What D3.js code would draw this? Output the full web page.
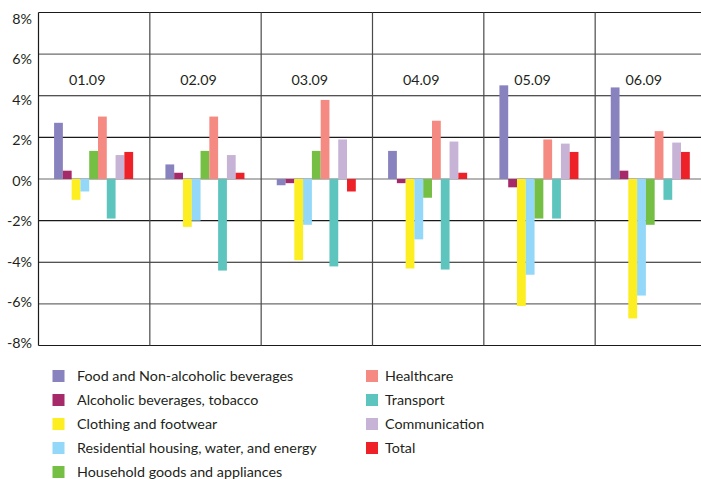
<!DOCTYPE html>
<html>
<head>
<meta charset="utf-8">
<script src="https://cdn.jsdelivr.net/npm/d3@7"></script>
<style>
  html, body { margin: 0; padding: 0; background: #fff; }
  svg { display: block; }
  text { font-family: Lato, "Noto Sans", sans-serif; fill: #231f20; }
</style>
</head>
<body>
<svg id="chart" width="701" height="479"></svg>
<script>
const months = ["01.09", "02.09", "03.09", "04.09", "05.09", "06.09"];
const seriesNames = [
  "Food and Non-alcoholic beverages",
  "Alcoholic beverages, tobacco",
  "Clothing and footwear",
  "Residential housing, water, and energy",
  "Household goods and appliances",
  "Healthcare",
  "Transport",
  "Communication",
  "Total"
];
const seriesColors = ["#8882be", "#a6296a", "#fcee21", "#93d8f8", "#74bf44", "#f58a83", "#5ec4be", "#c6b3d6", "#ee2129"];
// values per series, one per month
const food       = [2.7, 0.7, -0.3, 1.35, 4.5, 4.4];
const alcohol    = [0.4, 0.3, -0.2, -0.2, -0.4, 0.4];
const clothing   = [-1.0, -2.3, -3.9, -4.3, -6.1, -6.7];
const housing    = [-0.6, -2.0, -2.2, -2.9, -4.6, -5.6];
const household  = [1.35, 1.35, 1.35, -0.9, -1.9, -2.2];
const healthcare = [3.0, 3.0, 3.8, 2.8, 1.9, 2.3];
const transport  = [-1.9, -4.4, -4.2, -4.35, -1.9, -1.0];
const communication = [1.15, 1.15, 1.9, 1.8, 1.7, 1.75];
const total      = [1.3, 0.3, -0.6, 0.3, 1.3, 1.3];
const seriesValues = [food, alcohol, clothing, housing, household, healthcare, transport, communication, total];
const yTicks = [8, 6, 4, 2, 0, -2, -4, -6, -8];

const svg = d3.select("#chart");
const pLeft = 38.5, pRight = 706.5, pTop = 12.5, pBottom = 345.5;

const x0 = d3.scaleBand().domain(months).range([pLeft, pRight]).padding(0);
const gw = x0.bandwidth();
const x1 = d3.scaleBand().domain(d3.range(seriesNames.length))
  .range([gw * 0.14, gw * 0.85]).padding(0);
const y = d3.scaleLinear().domain([-8, 8]).range([pBottom, pTop]);
const yLab = d3.scaleLinear().domain([-8, 8]).range([347.3, 23]);

// horizontal grid lines
const gridG = svg.append("g");
gridG.selectAll("line.h").data(yTicks).join("line")
  .attr("x1", pLeft).attr("x2", 701)
  .attr("y1", d => y(d)).attr("y2", d => y(d))
  .attr("stroke", d => (d === 6 || d === -6 || d === 0) ? "#6d6d6d" : "#1a1a1a")
  .attr("stroke-width", 1.2);

// vertical dividers
const divs = months.map(m => x0(m));
gridG.selectAll("line.v").data(divs).join("line")
  .attr("x1", d => d).attr("x2", d => d)
  .attr("y1", pTop).attr("y2", pBottom)
  .attr("stroke", (d, i) => i === 0 ? "#1a1a1a" : "#4a4a4a")
  .attr("stroke-width", 1.2);

// bars
const barsG = svg.append("g");
months.forEach((m, mi) => {
  seriesValues.forEach((vals, si) => {
    const v = vals[mi];
    barsG.append("rect")
      .attr("x", x0(m) + x1(si))
      .attr("width", x1.bandwidth())
      .attr("y", Math.min(y(v), y(0)))
      .attr("height", Math.abs(y(v) - y(0)))
      .attr("fill", seriesColors[si]);
  });
});

// month labels
svg.append("g").selectAll("text").data(months).join("text")
  .attr("x", d => x0(d) + gw / 2 - 7)
  .attr("y", 85)
  .attr("text-anchor", "middle")
  .style("font-size", "14.3px")
  .text(d => d);

// y tick labels
const yAxis = d3.axisLeft(yLab).tickValues(yTicks).tickSize(0).tickPadding(0)
  .tickFormat(d => d + "%");
const ya = svg.append("g").attr("transform", "translate(32,0)").call(yAxis);
ya.select(".domain").remove();
ya.selectAll("text")
  .attr("dy", null)
  .style("font-size", "14.3px")
  .style("font-family", "Lato, 'Noto Sans', sans-serif")
  .attr("fill", "#231f20");

// legend
const legend = svg.append("g");
const colX = [52.5, 366];
const rowY = [376, 400, 424, 448, 472];
seriesNames.forEach((name, i) => {
  const col = i < 5 ? 0 : 1;
  const row = i < 5 ? i : i - 5;
  const g = legend.append("g").attr("transform", `translate(${colX[col]},${rowY[row]})`);
  g.append("rect").attr("x", 0).attr("y", -6).attr("width", 12).attr("height", 12)
    .attr("fill", seriesColors[i]);
  g.append("text").attr("x", col === 0 ? 24.5 : 19).attr("y", 5)
    .style("font-size", "14.3px").text(name);
});
</script>
</body>
</html>
